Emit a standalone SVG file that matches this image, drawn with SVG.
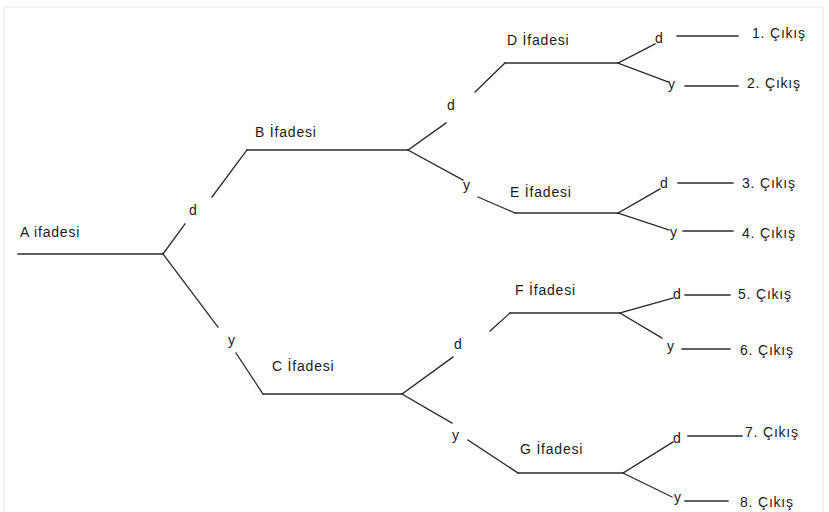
<svg xmlns="http://www.w3.org/2000/svg" width="829" height="512" viewBox="0 0 829 512">
<style>
  .ln{stroke:#2a2a2a;stroke-width:1.3;fill:none;stroke-linecap:square}
  .t{font-family:"Liberation Sans",Arial,sans-serif;font-size:14px;fill:#1a1a1a;letter-spacing:0.8px}
</style>
<rect x="0" y="0" width="829" height="512" fill="#ffffff"/>
<rect x="4" y="7" width="819" height="510" fill="none" stroke="#efefef" stroke-width="1.5"/>

<g id="nodeA"><line class="ln" x1="18" y1="254" x2="163" y2="254"/><text class="t" x="20" y="237">A ifadesi</text></g>
<g id="nodeB"><line class="ln" x1="247" y1="150" x2="408" y2="150"/><text class="t" x="255" y="137">B İfadesi</text></g>
<g id="nodeC"><line class="ln" x1="263" y1="394" x2="402" y2="394"/><text class="t" x="272" y="371">C İfadesi</text></g>
<g id="nodeD"><line class="ln" x1="505" y1="63" x2="618" y2="63"/><text class="t" x="507" y="45">D İfadesi</text></g>
<g id="nodeE"><line class="ln" x1="515" y1="213" x2="618" y2="213"/><text class="t" x="510" y="197">E İfadesi</text></g>
<g id="nodeF"><line class="ln" x1="510" y1="313" x2="620" y2="313"/><text class="t" x="515" y="295">F İfadesi</text></g>
<g id="nodeG"><line class="ln" x1="518" y1="473" x2="623" y2="473"/><text class="t" x="520" y="454">G İfadesi</text></g>

<g id="out1"><line class="ln" x1="677" y1="36" x2="738" y2="36"/><text class="t" x="752" y="38">1. Çıkış</text></g>
<g id="out2"><line class="ln" x1="685" y1="86" x2="738" y2="86"/><text class="t" x="747" y="88">2. Çıkış</text></g>
<g id="out3"><line class="ln" x1="678" y1="183" x2="733" y2="183"/><text class="t" x="742" y="188">3. Çıkış</text></g>
<g id="out4"><line class="ln" x1="683" y1="231" x2="733" y2="231"/><text class="t" x="742" y="238">4. Çıkış</text></g>
<g id="out5"><line class="ln" x1="685" y1="295" x2="730" y2="295"/><text class="t" x="738" y="299">5. Çıkış</text></g>
<g id="out6"><line class="ln" x1="682" y1="349" x2="730" y2="349"/><text class="t" x="740" y="355">6. Çıkış</text></g>
<g id="out7"><line class="ln" x1="688" y1="436" x2="742" y2="436"/><text class="t" x="745" y="437">7. Çıkış</text></g>
<g id="out8"><line class="ln" x1="685" y1="501" x2="728" y2="501"/><text class="t" x="740" y="507">8. Çıkış</text></g>

<g id="connectors">
  <!-- A -> B (d) -->
  <line class="ln" x1="163" y1="254" x2="185" y2="224"/>
  <line class="ln" x1="212" y1="197" x2="247" y2="150"/>
  <text class="t" x="189" y="215">d</text>
  <!-- A -> C (y) -->
  <line class="ln" x1="163" y1="254" x2="218" y2="327"/>
  <line class="ln" x1="236" y1="353" x2="263" y2="394"/>
  <text class="t" x="228" y="345">y</text>
  <!-- B -> D (d) -->
  <line class="ln" x1="408" y1="150" x2="446" y2="123"/>
  <line class="ln" x1="475" y1="92" x2="505" y2="63"/>
  <text class="t" x="447" y="110">d</text>
  <!-- B -> E (y) -->
  <line class="ln" x1="408" y1="150" x2="463" y2="180"/>
  <line class="ln" x1="478" y1="197" x2="515" y2="213"/>
  <text class="t" x="463" y="190">y</text>
  <!-- C -> F (d) -->
  <line class="ln" x1="402" y1="394" x2="453" y2="357"/>
  <line class="ln" x1="490" y1="331" x2="510" y2="313"/>
  <text class="t" x="454" y="349">d</text>
  <!-- C -> G (y) -->
  <line class="ln" x1="402" y1="394" x2="452" y2="423"/>
  <line class="ln" x1="468" y1="440" x2="518" y2="473"/>
  <text class="t" x="452" y="440">y</text>
  <!-- D -> outputs -->
  <line class="ln" x1="618" y1="63" x2="655" y2="44"/>
  <text class="t" x="655" y="43">d</text>
  <line class="ln" x1="618" y1="63" x2="668" y2="82"/>
  <text class="t" x="668" y="89">y</text>
  <!-- E -> outputs -->
  <line class="ln" x1="618" y1="213" x2="660" y2="189"/>
  <text class="t" x="660" y="188">d</text>
  <line class="ln" x1="618" y1="213" x2="669" y2="230"/>
  <text class="t" x="670" y="237">y</text>
  <!-- F -> outputs -->
  <line class="ln" x1="620" y1="313" x2="673" y2="298"/>
  <text class="t" x="673" y="299">d</text>
  <line class="ln" x1="620" y1="313" x2="662" y2="338"/>
  <text class="t" x="667" y="351">y</text>
  <!-- G -> outputs -->
  <line class="ln" x1="623" y1="473" x2="673" y2="442"/>
  <text class="t" x="673" y="443">d</text>
  <line class="ln" x1="623" y1="473" x2="672" y2="497"/>
  <text class="t" x="674" y="502">y</text>
</g>
</svg>
